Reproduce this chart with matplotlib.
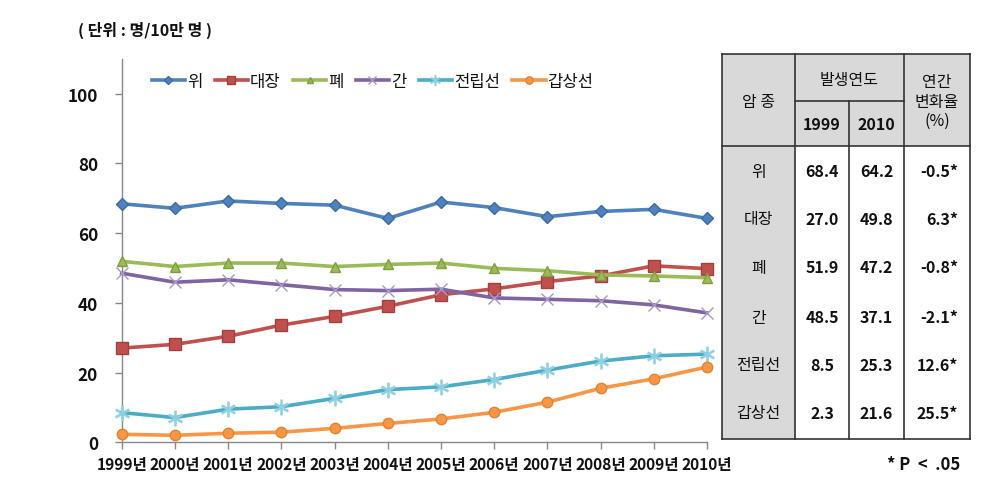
import matplotlib
matplotlib.use("Agg")
import matplotlib.pyplot as plt
from matplotlib.patches import Rectangle
from matplotlib.lines import Line2D

plt.rcParams['font.family'] = ['Noto Sans CJK KR', 'DejaVu Sans']

years = [1999, 2000, 2001, 2002, 2003, 2004, 2005, 2006, 2007, 2008, 2009, 2010]
year_labels = [f"{y}년" for y in years]

stomach = [68.4, 67.1, 69.2, 68.5, 68.0, 64.2, 68.9, 67.3, 64.7, 66.2, 66.8, 64.2]
colon = [27.0, 28.1, 30.4, 33.6, 36.1, 39.0, 42.3, 44.0, 46.1, 47.7, 50.6, 49.8]
lung = [51.9, 50.4, 51.4, 51.4, 50.4, 51.0, 51.4, 49.9, 49.2, 48.0, 47.7, 47.2]
liver = [48.5, 45.9, 46.6, 45.2, 43.8, 43.5, 43.9, 41.4, 41.0, 40.6, 39.4, 37.1]
prostate = [8.5, 7.1, 9.5, 10.2, 12.6, 15.1, 15.9, 18.0, 20.7, 23.3, 24.8, 25.3]
thyroid = [2.3, 2.0, 2.6, 2.9, 4.0, 5.4, 6.7, 8.6, 11.5, 15.5, 18.2, 21.6]

series_names = ['위', '대장', '폐', '간', '전립선', '갑상선']
series_values = [stomach, colon, lung, liver, prostate, thyroid]

table_1999 = ['68.4', '27.0', '51.9', '48.5', '8.5', '2.3']
table_2010 = ['64.2', '49.8', '47.2', '37.1', '25.3', '21.6']
table_change = ['-0.5*', '6.3*', '-0.8*', '-2.1*', '12.6*', '25.5*']

W, H = 995, 489
fig = plt.figure(figsize=(W / 100, H / 100), dpi=100)
fig.patch.set_facecolor('white')

def fx(px):
    return px / W

def fy(py):
    return 1 - py / H

ax = fig.add_axes([fx(121.7), fy(443.3), fx(707) - fx(121.7), fy(59.7) - fy(443.3)])

colors = ['#4F81BD', '#C0504D', '#9BBB59', '#8064A2', '#4BACC6', '#F79646']
edge_colors = ['#3A6BA5', '#A33F3C', '#7FA040', '#7A5C9E', '#3D9BB5', '#E08430']
markers = ['D', 's', '^', 'x', '*', 'o']
msizes = [6.5, 8.0, 7.0, 8.0, 9.0, 7.5]

handles = []
for name, vals, c, ec, m, ms in zip(series_names, series_values, colors, edge_colors, markers, msizes):
    if m == 'x':
        ln, = ax.plot(years, vals, color=c, lw=2.6, marker=m, ms=ms, mec='#A898C4',
                      mew=1.0, label=name, clip_on=False, zorder=3)
    elif m == '*':
        ln, = ax.plot(years, vals, color=c, lw=2.6, marker='$\\ast$', ms=ms + 2, mec='#8ED0E0',
                      mfc='#8ED0E0', mew=0.4, label=name, clip_on=False, zorder=3)
    else:
        ln, = ax.plot(years, vals, color=c, lw=2.6, marker=m, ms=ms, mfc=c, mec=ec,
                      mew=1.0, label=name, clip_on=False, zorder=3)
    handles.append(ln)

ax.set_xlim(1999, 2010)
ax.set_ylim(0, 110)
ax.set_yticks([0, 20, 40, 60, 80, 100])
ax.set_xticks(years)
ax.set_xticklabels(year_labels)
for lbl in ax.get_yticklabels():
    lbl.set_fontweight('bold')
    lbl.set_fontsize(12.3)
    lbl.set_color('#111111')
for lbl in ax.get_xticklabels():
    lbl.set_fontweight('bold')
    lbl.set_fontsize(11.2)
    lbl.set_color('#111111')

for s in ['top', 'right']:
    ax.spines[s].set_visible(False)
for s in ['left', 'bottom']:
    ax.spines[s].set_color('#888888')
    ax.spines[s].set_linewidth(1.0)
ax.tick_params(axis='both', direction='out', length=5, color='#888888', width=1.0)
ax.tick_params(axis='y', pad=12)
ax.tick_params(axis='x', pad=5)

leg = ax.legend(handles=handles, loc='upper left', bbox_to_anchor=(0.04, 0.98), ncol=6,
                frameon=False, fontsize=12, handlelength=2.0, handletextpad=0.1,
                columnspacing=0.75, borderaxespad=0, markerscale=0.7)
for t in leg.get_texts():
    t.set_color('#111111')

fig.text(fx(78), fy(30), '( 단위 : 명/10만 명 )', fontsize=11.5, fontweight='bold',
         va='center', ha='left', color='#111111')
fig.text(fx(960), fy(465), '* P  <  .05', fontsize=12, fontweight='bold',
         va='center', ha='right', color='#111111')

# table
tl, tr = 722, 970
c1, c2, c3 = 795, 849, 904
ttop, tmid, thead, tbot = 55, 102, 147, 440
grey = '#D9D9D9'

def rect(x0, y0, x1, y1, color):
    fig.patches.append(Rectangle((fx(x0), fy(y1)), fx(x1) - fx(x0), fy(y0) - fy(y1),
                                 transform=fig.transFigure, facecolor=color, edgecolor='none', zorder=1))

def line(x0, y0, x1, y1, lw=1.2):
    fig.lines.append(Line2D([fx(x0), fx(x1)], [fy(y0), fy(y1)], transform=fig.transFigure,
                            color='#333333', lw=lw, zorder=2))

rect(tl, ttop, tr, thead, grey)
rect(tl, thead, c1, tbot, grey)

line(tl, ttop, tr, ttop)
line(tl, tbot, tr, tbot)
line(tl, ttop, tl, tbot)
line(tr, ttop, tr, tbot)
line(c1, ttop, c1, tbot)
line(c2, tmid, c2, tbot)
line(c3, ttop, c3, tbot)
line(c1, tmid, c3, tmid)
line(tl, thead, tr, thead)

def txt(x, y, s, ha='center', bold=True, size=11.5):
    fig.text(fx(x), fy(y), s, ha=ha, va='center', fontsize=size,
             fontweight='bold' if bold else 'normal', color='#111111')

txt((tl + c1) / 2, 103, '암 종', bold=False)
txt((c1 + c3) / 2, 80, '발생연도', bold=False)
txt((c1 + c2) / 2, 125, '1999')
txt((c2 + c3) / 2, 125, '2010')
txt((c3 + tr) / 2, 83, '연간', bold=False)
txt((c3 + tr) / 2, 102, '변화율', bold=False)
txt((c3 + tr) / 2, 121, '(%)', bold=False)

row_y = [172, 220, 268, 318, 366, 414]
for y, name, a, b, c in zip(row_y, series_names, table_1999, table_2010, table_change):
    txt((tl + c1) / 2, y, name, bold=False)
    txt((c1 + c2) / 2, y, a)
    txt((c2 + c3) / 2, y, b)
    txt(958, y, c, ha='right')

fig.savefig('out.png', dpi=100, facecolor='white')
